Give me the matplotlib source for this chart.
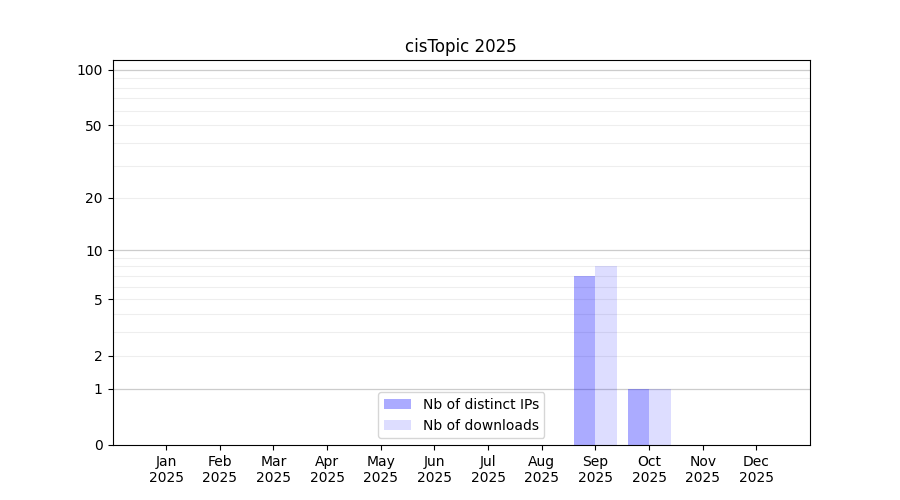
import numpy as np
import matplotlib
matplotlib.use("Agg")
import matplotlib.pyplot as plt

months = ["Jan", "Feb", "Mar", "Apr", "May", "Jun",
          "Jul", "Aug", "Sep", "Oct", "Nov", "Dec"]
year = "2025"
distinct_ips = [0, 0, 0, 0, 0, 0, 0, 0, 7, 1, 0, 0]
downloads = [0, 0, 0, 0, 0, 0, 0, 0, 8, 1, 0, 0]
ytick_values = [0, 1, 2, 5, 10, 20, 50, 100]

fig, ax = plt.subplots(figsize=(9, 5), dpi=100)

# log(1 + x) scale so zero stays on the axis
ax.set_yscale("function",
              functions=(lambda v: np.log10(1 + np.clip(v, 0, None)),
                         lambda v: 10 ** v - 1))

# grid: darker on decades, light on the rest
for d in [1, 10, 100]:
    ax.axhline(d, color="#cccccc", linewidth=0.9, zorder=0)
    for k in range(2, 10):
        if d * k < 113:
            ax.axhline(d * k, color="#eeeeee", linewidth=0.8, zorder=0)

x = np.arange(len(months))
ax.bar(x - 0.2, distinct_ips, width=0.4, color="blue", alpha=0.33,
       label="Nb of distinct IPs", zorder=2)
ax.bar(x + 0.2, downloads, width=0.4, color="blue", alpha=0.135,
       label="Nb of downloads", zorder=2)

ax.set_xlim(-1, 12)
ax.set_ylim(0, 113)
ax.set_xticks(x)
ax.set_xticklabels([f"{m}\n{year}" for m in months])
ax.set_yticks(ytick_values)
ax.set_yticklabels([str(v) for v in ytick_values])
ax.yaxis.set_minor_locator(matplotlib.ticker.NullLocator())

ax.set_title("cisTopic 2025")
ax.legend(loc="lower center")

fig.savefig("out.png", dpi=100)
